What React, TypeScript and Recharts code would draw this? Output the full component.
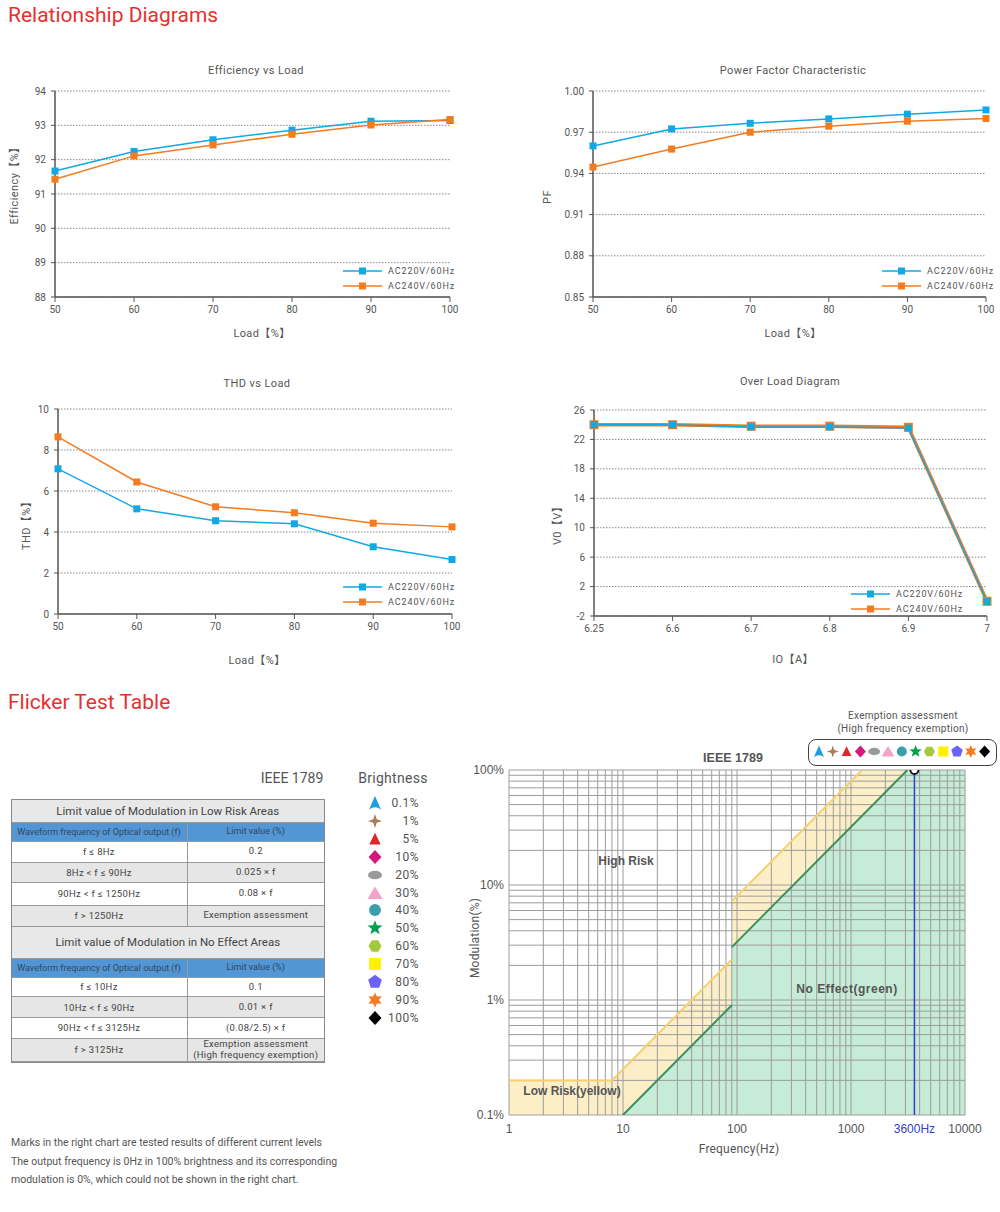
import React from "react";
import {
  LineChart,
  Line,
  XAxis,
  YAxis,
  CartesianGrid,
  ComposedChart,
  Area,
  Scatter,
  ReferenceLine,
} from "recharts";

const RED = "#e4312f";
const BLUE = "#12a8e4";
const ORANGE = "#f47b20";
const TXT = "#555";

// ---- relationship diagrams ----
const loadPct = [50, 60, 70, 80, 90, 100];
const effAC220 = [91.67, 92.24, 92.58, 92.86, 93.12, 93.14];
const effAC240 = [91.43, 92.11, 92.43, 92.74, 93.01, 93.17];
const pfAC220 = [0.96, 0.9724, 0.9765, 0.9797, 0.9831, 0.9862];
const pfAC240 = [0.9446, 0.9577, 0.97, 0.9744, 0.978, 0.98];
const thdAC220 = [7.08, 5.13, 4.55, 4.4, 3.28, 2.66];
const thdAC240 = [8.64, 6.44, 5.23, 4.94, 4.43, 4.25];
const ioAmp = ["6.25", "6.6", "6.7", "6.8", "6.9", "7"];
const voAC220 = [24, 24, 23.7, 23.7, 23.55, -0.05];
const voAC240 = [24, 24, 23.8, 23.8, 23.65, 0];

const effTicks = [88, 89, 90, 91, 92, 93, 94];
const pfTicks = [0.85, 0.88, 0.91, 0.94, 0.97, 1.0];
const thdTicks = [0, 2, 4, 6, 8, 10];
const voTicks = [-2, 2, 6, 10, 14, 18, 22, 26];
const seriesNames = ["AC220V/60Hz", "AC240V/60Hz"];

// ---- flicker (IEEE 1789) ----
const lowRiskFreq = [1, 8, 90, 90, 1250, 10000];
const lowRiskMod = [0.2, 0.2, 2.25, 7.2, 100, 100];
const noEffectFreq = [10, 90, 90, 3125, 10000];
const noEffectMod = [0.1, 0.9, 2.88, 100, 100];
const testFreq = [3600];
const testMod = [100];
const freqTicks = [1, 10, 100, 1000, 3600, 10000];
const modTicks = [0.1, 1, 10, 100];

const lowRiskRanges = ["f ≤ 8Hz", "8Hz < f ≤ 90Hz", "90Hz < f ≤ 1250Hz", "f > 1250Hz"];
const lowRiskLimits = ["0.2", "0.025 × f", "0.08 × f", "Exemption assessment"];
const noEffectRanges = ["f ≤ 10Hz", "10Hz < f ≤ 90Hz", "90Hz < f ≤ 3125Hz", "f > 3125Hz"];
const noEffectLimits = ["0.1", "0.01 × f", "(0.08/2.5) × f", "Exemption assessment\n(High frequency exemption)"];

const brightness = ["0.1%", "1%", "5%", "10%", "20%", "30%", "40%", "50%", "60%", "70%", "80%", "90%", "100%"];
const markerKinds = ["tripod", "star4", "triangle", "diamond", "ellipse", "triangleW", "circle", "star5", "hexagon", "square", "pentagon", "star6", "diamond"];
const markerColors = ["#1b9fe2", "#a97c5d", "#e1252b", "#d5177e", "#9a9a9a", "#f7a2c8", "#3d9fac", "#00a04e", "#a4c93b", "#fff200", "#6b62f6", "#f47b21", "#000000"];

// grid positions for the log-log chart
const freqGrid: number[] = [];
[1, 10, 100, 1000].forEach((d) => {
  for (let k = 1; k < 10; k++) freqGrid.push(d * k);
});
freqGrid.push(10000);
const modGrid: number[] = [];
[0.1, 1, 10].forEach((d) => {
  for (let k = 1; k < 10; k++) modGrid.push(d * k);
});
modGrid.push(100);

const rows = (xs: (number | string)[], a: number[], b: number[]) =>
  xs.map((x, i) => ({ x, a: a[i], b: b[i] }));

const pairs = (fs: number[], ms: number[]) => fs.map((f, i) => ({ f, m: ms[i] }));

const squareDot = (color: string, size: number) => (p: any) => {
  if (p.cx == null || p.cy == null) return <g key={p.index} />;
  return (
    <rect
      key={p.index}
      x={p.cx - size / 2}
      y={p.cy - size / 2}
      width={size}
      height={size}
      fill={color}
    />
  );
};

function T({ x, y, children, size = 11, rot = false, color = TXT, weight = 400, ls = 0.4, family }: any) {
  return (
    <div
      style={{
        position: "absolute",
        left: x,
        top: y,
        transform: `translate(-50%,-50%)${rot ? " rotate(-90deg)" : ""}`,
        whiteSpace: "nowrap",
        fontSize: size,
        color,
        fontWeight: weight,
        letterSpacing: ls,
        lineHeight: 1.1,
        fontFamily: family,
      }}
    >
      {children}
    </div>
  );
}

function SeriesLegend({ left, top }: { left: number; top: number }) {
  const colors = [BLUE, ORANGE];
  return (
    <div style={{ position: "absolute", left, top }}>
      {seriesNames.map((n, i) => (
        <div key={n} style={{ display: "flex", alignItems: "center", height: 15 }}>
          <svg width={39} height={10}>
            <line x1={0} x2={39} y1={5} y2={5} stroke={colors[i]} strokeWidth={1.5} />
            <rect x={16} y={1.5} width={7} height={7} fill={colors[i]} />
          </svg>
          <span style={{ marginLeft: 6, fontSize: 9, letterSpacing: 0.9, color: TXT }}>{n}</span>
        </div>
      ))}
    </div>
  );
}

type LoadProps = {
  left: number;
  top: number;
  width: number;
  height: number;
  yWidth: number;
  mTop: number;
  mRight: number;
  data: any[];
  numeric: boolean;
  yDomain: [number, number];
  yTicks: number[];
  yFmt?: (v: number) => string;
  overlap?: boolean;
};

function LoadChart(p: LoadProps) {
  const axisStyle = { stroke: "#555", strokeWidth: 1.5 };
  const blueLine = (
    <Line
      key="a"
      dataKey="a"
      type="linear"
      stroke={BLUE}
      strokeWidth={1.5}
      dot={squareDot(BLUE, 7)}
      activeDot={false}
      isAnimationActive={false}
    />
  );
  const orangeLine = (
    <Line
      key="b"
      dataKey="b"
      type="linear"
      stroke={ORANGE}
      strokeWidth={p.overlap ? 3.5 : 1.5}
      dot={squareDot(ORANGE, p.overlap ? 9 : 7)}
      activeDot={false}
      isAnimationActive={false}
    />
  );
  return (
    <div style={{ position: "absolute", left: p.left, top: p.top }}>
      <LineChart
        width={p.width}
        height={p.height}
        data={p.data}
        margin={{ top: p.mTop, right: p.mRight, left: 0, bottom: 0 }}
      >
        <CartesianGrid vertical={false} stroke="#8a8a8a" strokeDasharray="1.5 1.5" />
        <XAxis
          dataKey="x"
          type={p.numeric ? "number" : "category"}
          domain={p.numeric ? [50, 100] : undefined}
          ticks={p.numeric ? loadPct : undefined}
          interval={0}
          height={30}
          tickSize={5}
          tickMargin={4}
          axisLine={axisStyle}
          tickLine={{ stroke: "#555" }}
          tick={{ fill: TXT, fontSize: 10 }}
        />
        <YAxis
          width={p.yWidth}
          type="number"
          domain={p.yDomain}
          ticks={p.yTicks}
          interval={0}
          tickFormatter={p.yFmt}
          tickSize={4}
          tickMargin={5}
          axisLine={axisStyle}
          tickLine={{ stroke: "#555" }}
          tick={{ fill: TXT, fontSize: 10 }}
          allowDataOverflow
        />
        {p.overlap ? [orangeLine, blueLine] : [blueLine, orangeLine]}
      </LineChart>
    </div>
  );
}

function markerPath(kind: string, s: number) {
  const poly = (n: number, r: number, rot = -Math.PI / 2) =>
    Array.from({ length: n }, (_, i) => {
      const a = rot + (i * 2 * Math.PI) / n;
      return `${(r * Math.cos(a)).toFixed(2)},${(r * Math.sin(a)).toFixed(2)}`;
    }).join(" ");
  const star = (n: number, ro: number, ri: number) =>
    Array.from({ length: n * 2 }, (_, i) => {
      const a = -Math.PI / 2 + (i * Math.PI) / n;
      const r = i % 2 ? ri : ro;
      return `${(r * Math.cos(a)).toFixed(2)},${(r * Math.sin(a)).toFixed(2)}`;
    }).join(" ");
  const k = s / 12;
  switch (kind) {
    case "tripod":
      return { d: `M0,${-6.5 * k} L${5.5 * k},${6 * k} Q0,${2 * k} ${-5.5 * k},${6 * k} Z` };
    case "star4":
      return { pts: star(4, 6.5 * k, 2.3 * k) };
    case "triangle":
      return { pts: `0,${-5.8 * k} ${5.3 * k},${5 * k} ${-5.3 * k},${5 * k}` };
    case "triangleW":
      return { pts: `0,${-6 * k} ${7 * k},${5.5 * k} ${-7 * k},${5.5 * k}` };
    case "diamond":
      return { pts: `0,${-6.5 * k} ${6 * k},0 0,${6.5 * k} ${-6 * k},0` };
    case "ellipse":
      return { ellipse: [6.5 * k, 4 * k] };
    case "circle":
      return { ellipse: [5.5 * k, 5.5 * k] };
    case "star5":
      return { pts: star(5, 7.2 * k, 3 * k) };
    case "hexagon":
      return { pts: poly(6, 6 * k, 0) };
    case "square":
      return { pts: `${-5.5 * k},${-5.5 * k} ${5.5 * k},${-5.5 * k} ${5.5 * k},${5.5 * k} ${-5.5 * k},${5.5 * k}` };
    case "pentagon":
      return { pts: poly(5, 6.6 * k) };
    case "star6":
      return { pts: star(6, 7 * k, 3.6 * k) };
    default:
      return { pts: "" };
  }
}

function MarkerShape({ kind, color, cx, cy, size }: any) {
  const m: any = markerPath(kind, size);
  return (
    <g transform={`translate(${cx},${cy})`}>
      {m.d && <path d={m.d} fill={color} />}
      {m.pts && <polygon points={m.pts} fill={color} />}
      {m.ellipse && <ellipse rx={m.ellipse[0]} ry={m.ellipse[1]} fill={color} />}
    </g>
  );
}

function FlickerTable() {
  const gray = "#e6e6e6";
  const layout: any[] = [
    { kind: "title", text: "Limit value of Modulation in Low Risk Areas", h: 22.7 },
    { kind: "blue", h: 19 },
    ...lowRiskRanges.map((r, i) => ({ kind: "cell", c1: r, c2: lowRiskLimits[i], h: [21, 20, 23, 21][i], bg: i % 2 ? gray : "#fff" })),
    { kind: "title", text: "Limit value of Modulation in No Effect Areas", h: 32.3 },
    { kind: "blue", h: 18.7 },
    ...noEffectRanges.map((r, i) => ({ kind: "cell", c1: r, c2: noEffectLimits[i], h: [19.6, 21, 20.4, 23.3][i], bg: i % 2 ? gray : "#fff" })),
  ];
  let y = 0;
  const c1w = 175;
  const total = 312.5;
  return (
    <div style={{ position: "absolute", left: 11.5, top: 800, width: total, height: 262 }}>
      {layout.map((r, i) => {
        const top = y;
        y += r.h;
        const base: any = {
          position: "absolute",
          left: 0,
          top,
          width: total,
          height: r.h,
          boxSizing: "border-box",
          borderBottom: "1.5px solid #9a9a9a",
          display: "flex",
          alignItems: "center",
          color: "#444",
        };
        if (r.kind === "title")
          return (
            <div key={i} style={{ ...base, background: "#e8e8e8", justifyContent: "center", fontSize: 11.5 }}>
              {r.text}
            </div>
          );
        const isBlue = r.kind === "blue";
        const bg = isBlue ? "#5296d5" : r.bg;
        const col = isBlue ? "#34465a" : "#444";
        const c1 = isBlue ? "Waveform frequency of Optical output (f)" : r.c1;
        const c2 = isBlue ? "Limit value (%)" : r.c2;
        return (
          <div key={i} style={{ ...base, background: bg, fontSize: isBlue ? 9 : 9.5, color: col }}>
            <div style={{ width: c1w, textAlign: "center", letterSpacing: isBlue ? 0 : 0.3 }}>{c1}</div>
            <div
              style={{
                flex: 1,
                height: "100%",
                borderLeft: "1.5px solid #9a9a9a",
                display: "flex",
                alignItems: "center",
                justifyContent: "center",
                textAlign: "center",
                whiteSpace: "pre-line",
                lineHeight: 1.1,
                letterSpacing: isBlue ? 0 : 0.3,
              }}
            >
              {c2}
            </div>
          </div>
        );
      })}
      <div
        style={{
          position: "absolute",
          left: -1,
          top: -1,
          width: total + 2,
          height: 264,
          boxSizing: "border-box",
          border: "1.5px solid #8a8a8a",
        }}
      />
    </div>
  );
}

function BrightnessLegend() {
  return (
    <div style={{ position: "absolute", left: 360, top: 794 }}>
      {brightness.map((b, i) => (
        <div key={b} style={{ position: "absolute", left: 0, top: i * 17.9, width: 60, height: 18 }}>
          <svg width={30} height={18} style={{ position: "absolute", left: 0, top: 0 }}>
            <MarkerShape kind={markerKinds[i]} color={markerColors[i]} cx={15} cy={9} size={13} />
          </svg>
          <div style={{ position: "absolute", right: 1, top: 2, fontSize: 12, color: TXT, letterSpacing: 0.5 }}>{b}</div>
        </div>
      ))}
    </div>
  );
}

const FreqTick = (props: any) => {
  const { x, y, payload } = props;
  const hl = payload.value === 3600;
  return (
    <text
      x={x}
      y={y + 10}
      textAnchor="middle"
      fontSize={12}
      fill={hl ? "#3340c8" : TXT}
      fontFamily="'Liberation Sans', Arial, sans-serif"
    >
      {hl ? "3600Hz" : payload.value}
    </text>
  );
};

function IeeeChart() {
  const lowRisk = pairs(lowRiskFreq, lowRiskMod);
  const noEffect = pairs(noEffectFreq, noEffectMod);
  const lowSeg1 = lowRisk.slice(0, 3);
  const lowSeg2 = lowRisk.slice(3, 5);
  const noSeg1 = noEffect.slice(0, 2);
  const noSeg2 = noEffect.slice(2, 4);
  const tests = pairs(testFreq, testMod);
  const yellowStroke = "#f6cf70";
  const greenStroke = "#3c8f5c";
  const gridColor = "#9c9c9c";
  return (
    <div style={{ position: "absolute", left: 460, top: 740 }}>
      <ComposedChart width={540} height={420} margin={{ top: 30, right: 35, left: 0, bottom: 0 }}>
        <XAxis
          dataKey="f"
          type="number"
          scale="log"
          domain={[1, 10000]}
          ticks={freqTicks}
          interval={0}
          allowDataOverflow
          axisLine={false}
          tickLine={false}
          height={45}
          tick={<FreqTick />}
        />
        <YAxis
          dataKey="m"
          type="number"
          scale="log"
          domain={[0.1, 100]}
          ticks={modTicks}
          interval={0}
          allowDataOverflow
          axisLine={false}
          tickLine={false}
          width={49}
          tickSize={3}
          tickMargin={2}
          tickFormatter={(v: number) => `${v}%`}
          tick={{ fill: TXT, fontSize: 12, fontFamily: "'Liberation Sans', Arial, sans-serif" }}
        />
        <Area
          data={lowRisk}
          dataKey="m"
          type="linear"
          baseValue={0.1}
          fill="#fcefc8"
          fillOpacity={1}
          stroke="none"
          isAnimationActive={false}
        />
        <Area
          data={noEffect}
          dataKey="m"
          type="linear"
          baseValue={0.1}
          fill="#c6ebd6"
          fillOpacity={1}
          stroke="none"
          isAnimationActive={false}
        />
        {freqGrid.map((f) => (
          <ReferenceLine key={`v${f}`} x={f} stroke={gridColor} strokeWidth={1} />
        ))}
        {modGrid.map((m) => (
          <ReferenceLine key={`h${m}`} y={m} stroke={gridColor} strokeWidth={1} />
        ))}
        <Line data={lowSeg1} dataKey="m" type="linear" stroke={yellowStroke} strokeWidth={2} dot={false} activeDot={false} isAnimationActive={false} />
        <Line data={lowSeg2} dataKey="m" type="linear" stroke={yellowStroke} strokeWidth={2} dot={false} activeDot={false} isAnimationActive={false} />
        <Line data={noSeg1} dataKey="m" type="linear" stroke={greenStroke} strokeWidth={2} dot={false} activeDot={false} isAnimationActive={false} />
        <Line data={noSeg2} dataKey="m" type="linear" stroke={greenStroke} strokeWidth={2} dot={false} activeDot={false} isAnimationActive={false} />
        <ReferenceLine x={3600} stroke="#3340c8" strokeWidth={1.5} />
        <Scatter
          data={tests}
          dataKey="m"
          isAnimationActive={false}
          shape={(s: any) => <circle cx={s.cx} cy={s.cy} r={4} fill="#fff" stroke="#111" strokeWidth={1.8} />}
        />
      </ComposedChart>
    </div>
  );
}

export default function App() {
  const bold = "'Liberation Sans', Arial, sans-serif";
  return (
    <div
      style={{
        position: "absolute",
        left: 0,
        top: 0,
        width: 1000,
        height: 1212,
        background: "#fff",
        fontFamily: "Roboto, 'Noto Sans CJK SC', sans-serif",
        color: TXT,
        overflow: "hidden",
      }}
    >
      <div style={{ position: "absolute", left: 8, top: 2, fontSize: 21, lineHeight: "26px", color: RED }}>
        Relationship Diagrams
      </div>

      {/* Efficiency */}
      <T x={256} y={71}>Efficiency vs Load</T>
      <LoadChart
        left={0}
        top={80}
        width={480}
        height={247}
        yWidth={55}
        mTop={11}
        mRight={30}
        data={rows(loadPct, effAC220, effAC240)}
        numeric
        yDomain={[88, 94]}
        yTicks={effTicks}
      />
      <T x={262} y={334}>Load【%】</T>
      <T x={15} y={183} rot>Efficiency【%】</T>
      <SeriesLegend left={343} top={263.5} />

      {/* Power factor */}
      <T x={793} y={71}>Power Factor Characteristic</T>
      <LoadChart
        left={520}
        top={80}
        width={480}
        height={247}
        yWidth={73}
        mTop={11}
        mRight={14}
        data={rows(loadPct, pfAC220, pfAC240)}
        numeric
        yDomain={[0.85, 1.0]}
        yTicks={pfTicks}
        yFmt={(v: number) => v.toFixed(2)}
      />
      <T x={793} y={334}>Load【%】</T>
      <T x={548} y={197} rot>PF</T>
      <SeriesLegend left={882} top={263.5} />

      {/* THD */}
      <T x={257} y={384}>THD vs Load</T>
      <LoadChart
        left={0}
        top={400}
        width={480}
        height={244}
        yWidth={58}
        mTop={9}
        mRight={28}
        data={rows(loadPct, thdAC220, thdAC240)}
        numeric
        yDomain={[0, 10]}
        yTicks={thdTicks}
      />
      <T x={257} y={661}>Load【%】</T>
      <T x={27} y={523} rot>THD【%】</T>
      <SeriesLegend left={343} top={579.5} />

      {/* Over load */}
      <T x={790} y={382}>Over Load Diagram</T>
      <LoadChart
        left={520}
        top={400}
        width={480}
        height={246}
        yWidth={74}
        mTop={10}
        mRight={13}
        data={rows(ioAmp, voAC220, voAC240)}
        numeric={false}
        yDomain={[-2, 26]}
        yTicks={voTicks}
        overlap
      />
      <T x={793} y={660}>IO【A】</T>
      <T x={558} y={523} rot>V0【V】</T>
      <SeriesLegend left={851} top={586} />

      {/* Flicker */}
      <div style={{ position: "absolute", left: 8, top: 689, fontSize: 21, lineHeight: "26px", color: RED }}>
        Flicker Test Table
      </div>
      <T x={292} y={779} size={14} ls={0}>IEEE 1789</T>
      <T x={393} y={779} size={14} ls={0.3}>Brightness</T>
      <FlickerTable />
      <BrightnessLegend />

      <div
        style={{
          position: "absolute",
          left: 11,
          top: 1134,
          fontSize: 10.5,
          lineHeight: "18.5px",
          color: TXT,
        }}
      >
        Marks in the right chart are tested results of different current levels
        <br />
        The output frequency is 0Hz in 100% brightness and its corresponding
        <br />
        modulation is 0%, which could not be shown in the right chart.
      </div>

      <IeeeChart />
      <T x={733} y={759} size={12.5} weight={700} ls={0} family={bold}>IEEE 1789</T>
      <T x={626} y={862} size={12} weight={700} ls={0} family={bold}>High Risk</T>
      <T x={847} y={990} size={12} weight={700} ls={0.5} family={bold}>No Effect(green)</T>
      <T x={572} y={1092} size={12} weight={700} ls={0} family={bold}>Low Risk(yellow)</T>
      <T x={739} y={1150} size={12} ls={0.2}>Frequency(Hz)</T>
      <T x={476} y={938} size={12} ls={0.2} rot>Modulation(%)</T>

      <T x={903} y={715} size={10} ls={0.3}>Exemption assessment</T>
      <T x={903} y={728} size={10} ls={0.3}>(High frequency exemption)</T>
      <div
        style={{
          position: "absolute",
          left: 808,
          top: 739,
          width: 189,
          height: 27,
          boxSizing: "border-box",
          border: "1.5px solid #444",
          borderRadius: 8,
          background: "#fff",
        }}
      >
        <svg width={186} height={24} style={{ position: "absolute", left: 0, top: 0 }}>
          {markerKinds.map((k, i) => (
            <MarkerShape key={i} kind={k} color={markerColors[i]} cx={10 + i * 13.8} cy={11.5} size={11} />
          ))}
        </svg>
      </div>
    </div>
  );
}
